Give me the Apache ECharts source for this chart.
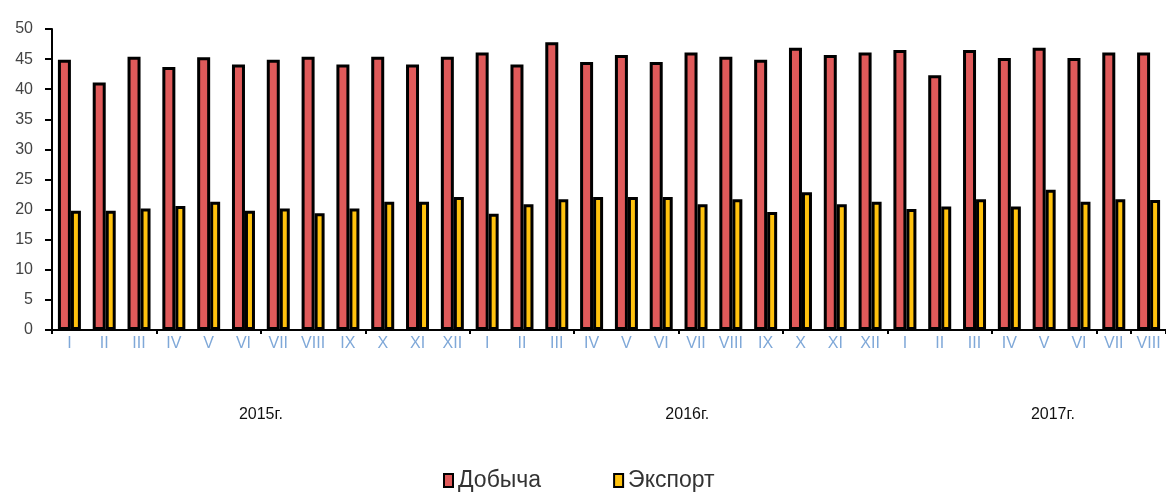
<!DOCTYPE html>
<html>
<head>
<meta charset="utf-8">
<script src="https://cdn.jsdelivr.net/npm/echarts@6/dist/echarts.min.js"></script>
<style>
  html, body { margin: 0; padding: 0; background: #fff; }
  #chart { width: 1166px; height: 497px; }
</style>
</head>
<body>
<div id="chart"></div>
<script>
  /* месяцы: 2015 (12), 2016 (12), 2017 (8) */
  var months = [
    'I', 'II', 'III', 'IV', 'V', 'VI', 'VII', 'VIII', 'IX', 'X', 'XI', 'XII',
    'I', 'II', 'III', 'IV', 'V', 'VI', 'VII', 'VIII', 'IX', 'X', 'XI', 'XII',
    'I', 'II', 'III', 'IV', 'V', 'VI', 'VII', 'VIII'
  ];

  var extraction = [
    44.9, 41.1, 45.4, 43.7, 45.3, 44.1, 44.9, 45.4, 44.1, 45.4, 44.1, 45.4,
    46.1, 44.1, 47.8, 44.5, 45.7, 44.5, 46.1, 45.4, 44.9,
    46.9, 45.7, 46.1, 46.5, 42.3, 46.5, 45.2, 46.9, 45.2, 46.1, 46.1
  ];

  var exportData = [
    19.8, 19.8, 20.2, 20.6, 21.3, 19.8, 20.2, 19.4, 20.2, 21.3, 21.3, 22.1,
    19.3, 20.9, 21.7, 22.1, 22.1, 22.1, 20.9, 21.7, 19.6,
    22.9, 20.9, 21.3, 20.1, 20.5, 21.7, 20.5, 23.3, 21.3, 21.7, 21.6
  ];

  var years = ['2015г.', '2016г.', '2017г.'];
  var yearLabelPos = [6, 18.25, 28.75];

  var chart = echarts.init(document.getElementById('chart'));

  chart.setOption({
    animation: false,
    textStyle: { fontFamily: 'Liberation Sans, Arial, sans-serif' },
    color: ['#E05A5A', '#FFC20E'],
    legend: {
      left: 438,
      bottom: 0,
      icon: 'rect',
      itemWidth: 9,
      itemHeight: 13,
      itemGap: 72,
      textStyle: { fontSize: 23, color: '#333' },
      data: ['Добыча', 'Экспорт']
    },
    grid: {
      left: 52,
      top: 29,
      width: 1120,
      height: 301
    },
    xAxis: [
      {
        type: 'category',
        data: months,
        boundaryGap: true,
        axisLine: { lineStyle: { color: '#000', width: 2 } },
        axisTick: { show: true, interval: 2, length: 4, lineStyle: { color: '#000', width: 2 } },
        axisLabel: { interval: 0, margin: 6, fontSize: 16, color: '#7FA8D8' }
      },
      {
        type: 'value',
        position: 'bottom',
        gridIndex: 0,
        min: 0,
        max: 32,
        interval: 0.25,
        offset: 77,
        axisLine: { show: false },
        axisTick: { show: false },
        splitLine: { show: false },
        axisLabel: {
          margin: 0,
          fontSize: 16,
          color: '#111',
          showMinLabel: false,
          showMaxLabel: false,
          formatter: function (v) {
            var i = yearLabelPos.indexOf(v);
            return i >= 0 ? years[i] : '';
          }
        }
      }
    ],
    yAxis: {
      type: 'value',
      min: 0,
      max: 50,
      interval: 5,
      axisLine: { show: true, lineStyle: { color: '#000', width: 2 } },
      axisTick: { show: true, length: 7, lineStyle: { color: '#000', width: 2 } },
      axisLabel: { margin: 19, fontSize: 16, color: '#444' },
      splitLine: { show: false }
    },
    series: [
      {
        name: 'Добыча',
        type: 'bar',
        xAxisIndex: 0,
        data: extraction,
        barWidth: 13,
        barGap: '0%',
        itemStyle: { borderColor: '#000', borderWidth: 3 }
      },
      {
        name: 'Экспорт',
        type: 'bar',
        xAxisIndex: 0,
        data: exportData,
        barWidth: 10,
        itemStyle: { borderColor: '#000', borderWidth: 3 }
      }
    ]
  });
</script>
</body>
</html>
